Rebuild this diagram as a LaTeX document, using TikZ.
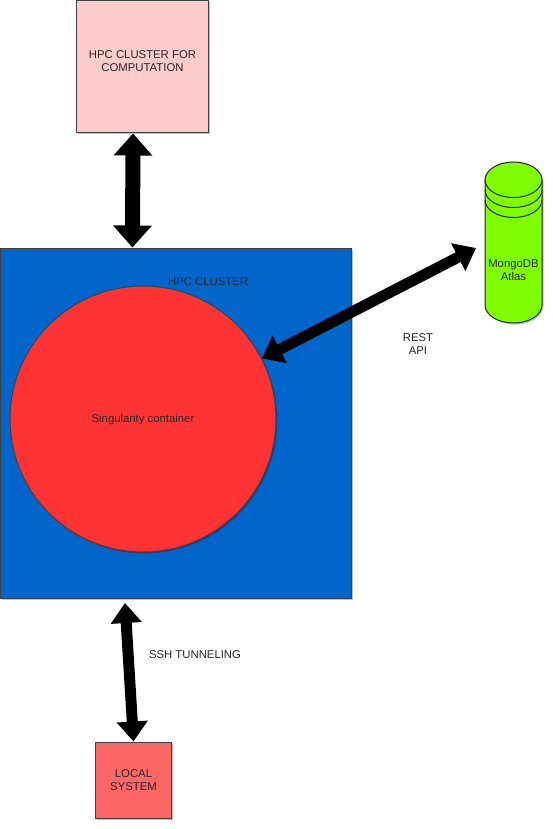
\documentclass[tikz,border=0pt]{standalone}
\usepackage{fontspec}
\setmainfont{Liberation Sans}
\usetikzlibrary{arrows.meta,shadows}

\definecolor{hpcpink}{HTML}{FFCCCC}
\definecolor{hpcblue}{HTML}{0066CC}
\definecolor{localred}{HTML}{FF6666}
\definecolor{contred}{HTML}{FF3333}
\definecolor{dbgreen}{HTML}{80FF00}

\tikzset{
  softshadow/.style={drop shadow={shadow xshift=0.03cm,shadow yshift=-0.03cm,opacity=0.25,fill=black}},
  boxnode/.style={draw=black!75,line width=0.02cm,align=center,inner sep=0pt,softshadow},
  caption/.style={align=center,inner sep=0pt,text=black!85,font=\fontsize{6.45pt}{7.5pt}\selectfont},
  fatlink/.style={line width=0.3cm,{Triangle[length=0.44cm,width=0.75cm]}-{Triangle[length=0.44cm,width=0.75cm]}},
  thinlink/.style={line width=0.22cm,{Triangle[length=0.4cm,width=0.6cm]}-{Triangle[length=0.4cm,width=0.6cm]}}
}

\begin{document}
\begin{tikzpicture}[x=0.02cm,y=-0.02cm]
  \useasboundingbox (0,0) rectangle (553,829);

  % Boxes
  \node[boxnode,fill=hpcpink,minimum width=2.66cm,minimum height=2.66cm] (compute) at (142.5,66.5) {};
  \node[boxnode,fill=hpcblue,minimum width=7.03cm,minimum height=7.02cm] (cluster) at (176.25,423.5) {};
  \node[boxnode,fill=localred,minimum width=1.54cm,minimum height=1.52cm] (local) at (133.5,780) {};
  \node[boxnode,circle,fill=contred,minimum size=5.32cm] (container) at (143,419) {};

  % Database drum
  \filldraw[fill=dbgreen,draw=black!85,line width=0.02cm,softshadow]
    (485,180) arc[x radius=28.5,y radius=18,start angle=180,end angle=360]
    -- (542,305) arc[x radius=28.5,y radius=18,start angle=0,end angle=180] -- cycle;
  \foreach \rimy in {180,190,200}
  {
    \draw[draw=black!85,line width=0.02cm] (485,\rimy) arc[x radius=28.5,y radius=-17.5,start angle=180,end angle=360];
  }

  % Free ends of the links
  \coordinate (resttip) at (476,248);
  \coordinate (sshtip) at (125,603);

  % Links
  \draw[fatlink] (compute.-98) -- (cluster.104);
  \draw[thinlink] (container.27.5) -- (resttip);
  \draw[thinlink] (sshtip) -- (local.north);

  % Texts
  \node[caption] (computetext) at (142.5,61) {HPC CLUSTER FOR\\COMPUTATION};
  \node[caption] (clustertext) at (208,282) {HPC CLUSTER};
  \node[caption] (containertext) at (143,419.5) {Singularity container};
  \node[caption] (localtext) at (local) {LOCAL\\SYSTEM};
  \node[caption] (mongotext) at (513.5,270) {MongoDB\\Atlas};
  \node[caption] (resttext) at (418,344) {REST\\API};
  \node[caption] (sshtext) at (195,654.5) {SSH TUNNELING};
\end{tikzpicture}
\end{document}
